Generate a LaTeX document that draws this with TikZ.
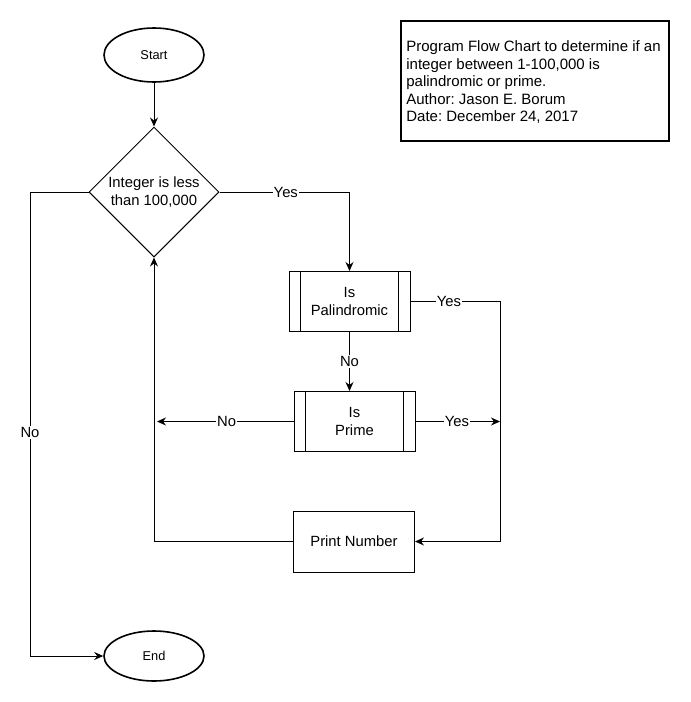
\documentclass[tikz,border=0pt]{standalone}
\usepackage{fontspec}
\setmainfont{Liberation Sans}
\usetikzlibrary{shapes.geometric,arrows.meta}
\frenchspacing
\begin{document}
\begin{tikzpicture}[x=1pt,y=-1pt,
  every node/.style={font=\fontsize{14.8}{17.8}\selectfont},
  term/.style={draw,ellipse,line width=1.6pt,minimum width=100pt,minimum height=54pt,inner sep=0pt,font=\fontsize{12.8}{15}\selectfont},
  decide/.style={draw,diamond,line width=1pt,minimum width=130pt,minimum height=130pt,aspect=1,inner sep=0pt,align=center},
  proc/.style={draw,rectangle,line width=1pt,minimum width=121pt,minimum height=60pt,inner sep=0pt,align=center},
  notebox/.style={draw,rectangle,line width=1.6pt,minimum width=268pt,minimum height=120pt,inner sep=0pt},
  notetext/.style={align=left,inner sep=0pt,anchor=west,font=\fontsize{15}{17.5}\selectfont},
  lbl/.style={fill=white,inner sep=1pt},
  conn/.style={line width=1pt},
  arr/.style={conn,-{Stealth[length=9pt,width=8pt,inset=3pt]}}
]
\useasboundingbox (0,0) rectangle (691,702);

\node[term] (start) at (154,55) {Start};
\node[decide] (dec) at (154,192) {Integer is less\\than 100,000};
\node[proc] (pal) at (349.5,301.5) {Is\\Palindromic};
\node[proc] (prime) at (354.5,421.5) {Is\\Prime};
\node[proc,minimum height=61pt] (print) at (354,541.5) {Print Number};
\node[term,minimum height=50pt] (end) at (154,656) {End};
\node[notebox] (info) at (535,81) {};
\node[notetext] (infotext) at ([xshift=6pt,yshift=-1.5pt]info.west) {Program Flow Chart to determine if an\\integer between 1-100,000 is\\palindromic or prime.\\Author: Jason E. Borum\\Date: December 24, 2017};

% predefined-process inner lines
\foreach \n in {pal,prime}{
  \draw[line width=1pt] ([xshift=12pt]\n.north west) -- ([xshift=12pt]\n.south west);
  \draw[line width=1pt] ([xshift=-12pt]\n.north east) -- ([xshift=-12pt]\n.south east);
}

\coordinate (rj) at (500,421.5);
\coordinate (nofree) at (157,421.5);

\draw[arr] (start) -- (dec);
\draw[arr] (dec.east) -- node[lbl,pos=0.51] {Yes} (349.5,192) -- (pal.north);
\draw[arr] (pal.south) -- node[lbl] {No} (prime.north -| pal.south);
\draw[conn] (pal.east) -- node[lbl,pos=0.43] {Yes} (500,301.5) -- (500,541.5);
\draw[arr] (500,541.5) -- (print.east);
\draw[arr] (prime.east) -- node[lbl,pos=0.49] {Yes} (rj);
\draw[arr] (prime.west) -- node[lbl,pos=0.49] {No} (nofree);
\draw[arr] (print.west) -- (154,541.5) -- (dec.south);
\draw[arr] (dec.west) -- (30,192) -- node[lbl,pos=0.518] {No} (30,656) -- (end.west);
\end{tikzpicture}
\end{document}
